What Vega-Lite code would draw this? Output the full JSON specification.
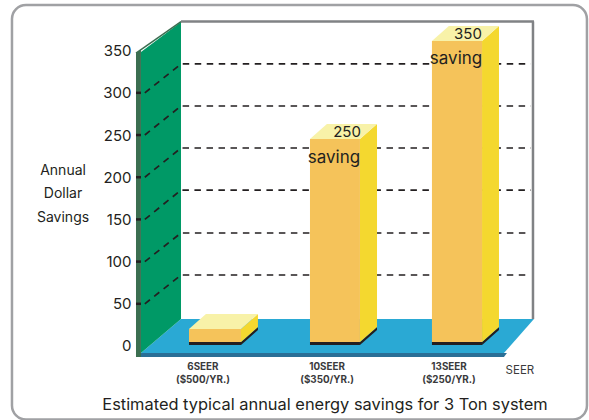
{
"$schema":"https://vega.github.io/schema/vega-lite/v6.json",
"width":589,"height":420,
"autosize":{"type":"fit","contains":"padding"},
"padding":0,
"background":"white",
"config":{"view":{"stroke":null},"font":"Inter"},
"datasets":{
"floor":[{"x":0.388,"y":-8.3,"y2":-8.3},{"x":0.719,"y":32,"y2":-8.3},{"x":3.388,"y":32,"y2":-8.3},{"x":3.636,"y":32,"y2":32}],
"floorEdge":[{"x":0.347,"y":-8.3,"y2":-13},{"x":3.388,"y":-8.3,"y2":-13},{"x":3.413,"y":-8.3,"y2":-8.3}],
"wall":[{"x":0.388,"y":348.4,"y2":-8.3},{"x":0.719,"y":383.9,"y2":32}],
"wallEdge":[{"x":0.347,"y":347,"y2":-13},{"x":0.388,"y":351,"y2":-13}],
"wallTop":[{"x":0.347,"y":347},{"x":0.719,"y":384.5}],
"backTop":[{"x":0.719,"y":384.5},{"x":3.636,"y":384.5}],
"backRight":[{"x":3.628,"y":384.5},{"x":3.628,"y":32}],
"grid":[
{"v":50,"x":0.42,"y":50},{"v":50,"x":0.719,"y":84.1},{"v":50,"x":3.61,"y":84.1},
{"v":100,"x":0.42,"y":100},{"v":100,"x":0.719,"y":133.9},{"v":100,"x":3.61,"y":133.9},
{"v":150,"x":0.42,"y":150},{"v":150,"x":0.719,"y":184.8},{"v":150,"x":3.61,"y":184.8},
{"v":200,"x":0.42,"y":200},{"v":200,"x":0.719,"y":234.6},{"v":200,"x":3.61,"y":234.6},
{"v":250,"x":0.42,"y":250},{"v":250,"x":0.719,"y":284.4},{"v":250,"x":3.61,"y":284.4},
{"v":300,"x":0.42,"y":300},{"v":300,"x":0.719,"y":334.2},{"v":300,"x":3.61,"y":334.2}],
"ticks":[{"x":0.347,"x2":0.388,"y":50},{"x":0.347,"x2":0.388,"y":100},{"x":0.347,"x2":0.388,"y":150},{"x":0.347,"x2":0.388,"y":200},{"x":0.347,"x2":0.388,"y":250},{"x":0.347,"x2":0.388,"y":300}],
"barFront":[{"bar":"6SEER","x":0.785,"x2":1.215,"y":20.1,"y2":4.7},{"bar":"10SEER","x":1.785,"x2":2.198,"y":245.3,"y2":4.7},{"bar":"13SEER","x":2.793,"x2":3.207,"y":361.4,"y2":4.7}],
"barBase":[{"bar":"6SEER","x":0.785,"x2":1.215,"y":4.7,"y2":1.2},{"bar":"10SEER","x":1.785,"x2":2.198,"y":4.7,"y2":1.2},{"bar":"13SEER","x":2.793,"x2":3.207,"y":4.7,"y2":1.2}],
"barSide":[
{"bar":"6SEER","x":1.215,"y":20.1,"y2":4.7},{"bar":"6SEER","x":1.355,"y":37.9,"y2":22.5},
{"bar":"10SEER","x":2.198,"y":245.3,"y2":4.7},{"bar":"10SEER","x":2.339,"y":263.1,"y2":22.5},
{"bar":"13SEER","x":3.207,"y":361.4,"y2":4.7},{"bar":"13SEER","x":3.347,"y":379.2,"y2":22.5}],
"barSideBase":[
{"bar":"6SEER","x":1.215,"y":4.7,"y2":1.2},{"bar":"6SEER","x":1.355,"y":22.5,"y2":19},
{"bar":"10SEER","x":2.198,"y":4.7,"y2":1.2},{"bar":"10SEER","x":2.339,"y":22.5,"y2":19},
{"bar":"13SEER","x":3.207,"y":4.7,"y2":1.2},{"bar":"13SEER","x":3.347,"y":22.5,"y2":19}],
"barTop":[
{"bar":"6SEER","x":0.785,"y":20.1,"y2":20.1},{"bar":"6SEER","x":0.925,"y":37.9,"y2":20.1},{"bar":"6SEER","x":1.215,"y":37.9,"y2":20.1},{"bar":"6SEER","x":1.355,"y":37.9,"y2":37.9},
{"bar":"10SEER","x":1.785,"y":245.3,"y2":245.3},{"bar":"10SEER","x":1.925,"y":263.1,"y2":245.3},{"bar":"10SEER","x":2.198,"y":263.1,"y2":245.3},{"bar":"10SEER","x":2.339,"y":263.1,"y2":263.1},
{"bar":"13SEER","x":2.793,"y":361.4,"y2":361.4},{"bar":"13SEER","x":2.933,"y":379.2,"y2":361.4},{"bar":"13SEER","x":3.207,"y":379.2,"y2":361.4},{"bar":"13SEER","x":3.347,"y":379.2,"y2":379.2}],
"barNum":[{"t":"250","x":2.091,"y":253.6},{"t":"350","x":3.091,"y":369.7}],
"barWord":[{"t":"saving","x":1.983,"y":222.8},{"t":"saving","x":2.992,"y":340}],
"smallText":[{"t":"6SEER","x":0.9,"y":-24.9},{"t":"($500/YR.)","x":0.9,"y":-40.3},{"t":"10SEER","x":1.926,"y":-24.9},{"t":"($350/YR.)","x":1.926,"y":-40.3},{"t":"13SEER","x":2.934,"y":-24.9},{"t":"($250/YR.)","x":2.934,"y":-40.3}],
"yTitle":[{"t":"Annual","x":-0.256,"y":207.4},{"t":"Dollar","x":-0.256,"y":180.1},{"t":"Savings","x":-0.256,"y":151.7}]
},
"layer":[
{"data":{"values":[{"x":-0.678,"x2":4.074,"y":404,"y2":-87.1}]},"mark":{"type":"rect","fill":null,"stroke":"#a0a1a4","strokeWidth":2.5,"cornerRadius":14,"clip":true},
 "encoding":{"x":{"field":"x","type":"quantitative","scale":{"domain":[-0.777,4.091],"nice":false,"zero":false},"axis":null},"x2":{"field":"x2"},
 "y":{"field":"y","type":"quantitative","scale":{"domain":[-87.7,410],"nice":false,"zero":false},"axis":{"orient":"left","offset":-131,"values":[0,50,100,150,200,250,300,350],"domain":false,"ticks":false,"grid":false,"title":null,"labelFont":"Inter","labelFontSize":15,"labelColor":"#231f20","labelPadding":0,"labelFlush":false}},"y2":{"field":"y2"}}},
{"data":{"name":"floor"},"mark":{"type":"area","color":"#2aa9d4"},"encoding":{"x":{"field":"x","type":"quantitative"},"y":{"field":"y","type":"quantitative"},"y2":{"field":"y2"}}},
{"data":{"name":"floorEdge"},"mark":{"type":"area","color":"#2a6f96"},"encoding":{"x":{"field":"x","type":"quantitative"},"y":{"field":"y","type":"quantitative"},"y2":{"field":"y2"}}},
{"data":{"name":"wall"},"mark":{"type":"area","color":"#009966"},"encoding":{"x":{"field":"x","type":"quantitative"},"y":{"field":"y","type":"quantitative"},"y2":{"field":"y2"}}},
{"data":{"name":"wallEdge"},"mark":{"type":"area","color":"#3b6e50"},"encoding":{"x":{"field":"x","type":"quantitative"},"y":{"field":"y","type":"quantitative"},"y2":{"field":"y2"}}},
{"data":{"name":"wallTop"},"mark":{"type":"line","color":"#3b6e50","strokeWidth":1.5},"encoding":{"x":{"field":"x","type":"quantitative"},"y":{"field":"y","type":"quantitative"}}},
{"data":{"name":"backTop"},"mark":{"type":"line","color":"#808285","strokeWidth":2.5},"encoding":{"x":{"field":"x","type":"quantitative"},"y":{"field":"y","type":"quantitative"}}},
{"data":{"name":"backRight"},"mark":{"type":"line","color":"#808285","strokeWidth":2.5},"encoding":{"x":{"field":"x","type":"quantitative"},"y":{"field":"y","type":"quantitative"}}},
{"data":{"name":"grid"},"mark":{"type":"line","color":"#231f20","strokeWidth":1.7,"strokeDash":[6.5,5.5]},"encoding":{"x":{"field":"x","type":"quantitative"},"y":{"field":"y","type":"quantitative"},"detail":{"field":"v"}}},
{"data":{"name":"ticks"},"mark":{"type":"rule","color":"#231f20","strokeWidth":2.5},"encoding":{"x":{"field":"x","type":"quantitative"},"x2":{"field":"x2"},"y":{"field":"y","type":"quantitative"}}},
{"data":{"name":"barSideBase"},"mark":{"type":"area","color":"#231f20"},"encoding":{"x":{"field":"x","type":"quantitative"},"y":{"field":"y","type":"quantitative"},"y2":{"field":"y2"},"detail":{"field":"bar"}}},
{"data":{"name":"barSide"},"mark":{"type":"area","color":"#f4d82f"},"encoding":{"x":{"field":"x","type":"quantitative"},"y":{"field":"y","type":"quantitative"},"y2":{"field":"y2"},"detail":{"field":"bar"}}},
{"data":{"name":"barTop"},"mark":{"type":"area","color":"#f8f2a8"},"encoding":{"x":{"field":"x","type":"quantitative"},"y":{"field":"y","type":"quantitative"},"y2":{"field":"y2"},"detail":{"field":"bar"}}},
{"data":{"name":"barFront"},"mark":{"type":"rect","color":"#f5c35a"},"encoding":{"x":{"field":"x","type":"quantitative"},"x2":{"field":"x2"},"y":{"field":"y","type":"quantitative"},"y2":{"field":"y2"}}},
{"data":{"name":"barBase"},"mark":{"type":"rect","color":"#231f20"},"encoding":{"x":{"field":"x","type":"quantitative"},"x2":{"field":"x2"},"y":{"field":"y","type":"quantitative"},"y2":{"field":"y2"}}},
{"data":{"name":"barNum"},"mark":{"type":"text","font":"Inter","fontSize":15,"color":"#231f20"},"encoding":{"x":{"field":"x","type":"quantitative"},"y":{"field":"y","type":"quantitative"},"text":{"field":"t"}}},
{"data":{"name":"barWord"},"mark":{"type":"text","font":"Inter","fontSize":17,"color":"#231f20"},"encoding":{"x":{"field":"x","type":"quantitative"},"y":{"field":"y","type":"quantitative"},"text":{"field":"t"}}},
{"data":{"name":"smallText"},"mark":{"type":"text","font":"Inter","fontWeight":"bold","fontSize":9.8,"color":"#3a3a3c"},"encoding":{"x":{"field":"x","type":"quantitative"},"y":{"field":"y","type":"quantitative"},"text":{"field":"t"}}},
{"data":{"name":"yTitle"},"mark":{"type":"text","font":"Inter","fontSize":14,"color":"#231f20"},"encoding":{"x":{"field":"x","type":"quantitative"},"y":{"field":"y","type":"quantitative"},"text":{"field":"t"}}},
{"data":{"values":[{"t":"SEER","x":3.52,"y":-29.6}]},"mark":{"type":"text","font":"Inter","fontSize":11.5,"color":"#3a3a3c"},"encoding":{"x":{"field":"x","type":"quantitative"},"y":{"field":"y","type":"quantitative"},"text":{"field":"t"}}},
{"data":{"values":[{"t":"Estimated typical annual energy savings for 3 Ton system","x":1.909,"y":-69.5}]},"mark":{"type":"text","font":"Inter","fontSize":16.4,"color":"#231f20"},"encoding":{"x":{"field":"x","type":"quantitative"},"y":{"field":"y","type":"quantitative"},"text":{"field":"t"}}}
]
}
